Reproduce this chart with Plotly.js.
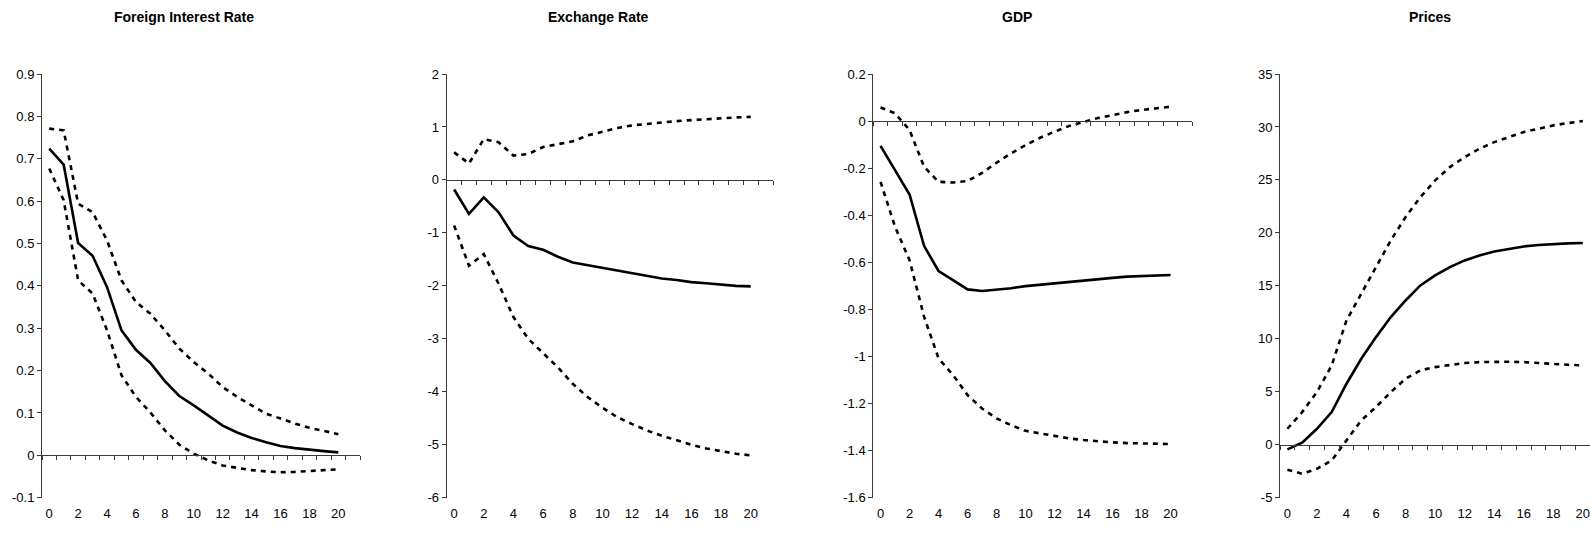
<!DOCTYPE html>
<html>
<head>
<meta charset="utf-8">
<script src="https://cdn.plot.ly/plotly-3.0.1.min.js"></script>
<style>
  html, body { margin: 0; padding: 0; overflow: hidden; background: #fff; }
  #chart { width: 1610px; height: 535px; }
</style>
</head>
<body>
<div id="chart"></div>
<script>
// Horizon (periods)
const periods = [0,1,2,3,4,5,6,7,8,9,10,11,12,13,14,15,16,17,18,19,20];
const xTickVals = [0,2,4,6,8,10,12,14,16,18,20];
const xTickText = ['0','2','4','6','8','10','12','14','16','18','20'];

// Panel titles
const titles = ['Foreign Interest Rate', 'Exchange Rate', 'GDP', 'Prices'];

// Foreign Interest Rate
const fir = [0.724,0.686,0.501,0.471,0.397,0.295,0.249,0.218,0.175,0.140,0.118,0.093,0.070,0.054,0.041,0.031,0.022,0.017,0.013,0.010,0.007];
const firUpper = [0.771,0.767,0.594,0.574,0.507,0.413,0.362,0.334,0.295,0.252,0.220,0.193,0.161,0.138,0.118,0.098,0.087,0.075,0.065,0.057,0.050];
const firLower = [0.677,0.602,0.413,0.382,0.295,0.189,0.138,0.101,0.059,0.025,0.004,-0.012,-0.024,-0.030,-0.035,-0.038,-0.040,-0.039,-0.037,-0.035,-0.033];

// Exchange Rate
const exr = [-0.18,-0.64,-0.33,-0.61,-1.05,-1.25,-1.32,-1.45,-1.56,-1.61,-1.66,-1.72,-1.77,-1.82,-1.86,-1.89,-1.93,-1.95,-1.98,-2.00,-2.01];
const exrUpper = [0.52,0.31,0.77,0.71,0.46,0.49,0.62,0.68,0.73,0.84,0.91,0.98,1.03,1.06,1.09,1.11,1.13,1.15,1.16,1.18,1.19];
const exrLower = [-0.86,-1.62,-1.40,-1.96,-2.59,-3.00,-3.27,-3.54,-3.85,-4.10,-4.30,-4.48,-4.61,-4.73,-4.83,-4.92,-5.00,-5.07,-5.12,-5.17,-5.20];

// GDP
const gdp = [-0.105,-0.208,-0.312,-0.530,-0.637,-0.676,-0.715,-0.722,-0.717,-0.710,-0.701,-0.695,-0.688,-0.681,-0.676,-0.670,-0.666,-0.661,-0.659,-0.656,-0.654];
const gdpUpper = [0.058,0.033,-0.038,-0.194,-0.258,-0.261,-0.255,-0.220,-0.177,-0.137,-0.102,-0.071,-0.045,-0.021,-0.004,0.013,0.025,0.038,0.047,0.054,0.061];
const gdpLower = [-0.258,-0.449,-0.591,-0.831,-1.008,-1.079,-1.164,-1.221,-1.263,-1.292,-1.316,-1.327,-1.339,-1.348,-1.355,-1.361,-1.365,-1.368,-1.370,-1.371,-1.372];

// Prices
const prices = [-0.44,0.19,1.51,3.08,5.76,8.12,10.16,12.05,13.62,15.04,15.98,16.77,17.40,17.87,18.25,18.50,18.72,18.85,18.94,19.01,19.04];
const pricesUpper = [1.51,3.08,4.97,7.49,11.74,14.25,16.77,19.29,21.49,23.38,24.95,26.21,27.16,27.94,28.57,29.05,29.52,29.83,30.15,30.37,30.56];
const pricesLower = [-2.36,-2.74,-2.27,-1.48,0.41,2.30,3.56,4.97,6.23,7.02,7.33,7.55,7.71,7.80,7.84,7.84,7.80,7.74,7.65,7.55,7.49];

// Y tick labels
const firYTicks = ['-0.1','0','0.1','0.2','0.3','0.4','0.5','0.6','0.7','0.8','0.9'];
const exrYTicks = ['-6','-5','-4','-3','-2','-1','0','1','2'];
const gdpYTicks = ['-1.6','-1.4','-1.2','-1','-0.8','-0.6','-0.4','-0.2','0','0.2'];
const pricesYTicks = ['-5','0','5','10','15','20','25','30','35'];

const W = 1610, H = 535;
const FONT = 'Liberation Sans, Arial, sans-serif';
const yDom = [(H - 497.7) / H, (H - 74) / H];
const xDomPx = [[42, 360], [446.7, 773], [873.3, 1192.3], [1280, 1605]];
const titleX = [184, 598, 1017, 1430];

const panels = [
  {mid: fir, up: firUpper, lo: firLower, yt: firYTicks},
  {mid: exr, up: exrUpper, lo: exrLower, yt: exrYTicks},
  {mid: gdp, up: gdpUpper, lo: gdpLower, yt: gdpYTicks},
  {mid: prices, up: pricesUpper, lo: pricesLower, yt: pricesYTicks}
];

const traces = [];
const layout = {
  width: W, height: H,
  margin: {l: 0, r: 0, t: 0, b: 0},
  paper_bgcolor: '#fff', plot_bgcolor: 'rgba(0,0,0,0)',
  showlegend: false,
  font: {family: FONT, size: 13, color: '#000'},
  annotations: []
};

const axisColor = '#3a3a3a';
const TICKFONT = {family: FONT, size: 13, color: '#000'};

panels.forEach((p, i) => {
  const n = i + 1;
  const xa = n === 1 ? 'x' : 'x' + n;
  const xl = 'x' + (n + 4);
  const ya = n === 1 ? 'y' : 'y' + n;
  const tickNums = p.yt.map(Number);
  const ymin = tickNums[0], ymax = tickNums[tickNums.length - 1];
  const zeroPos = yDom[0] + (0 - ymin) / (ymax - ymin) * (yDom[1] - yDom[0]);
  const dom = [xDomPx[i][0] / W, xDomPx[i][1] / W];

  const dashLine = {color: '#000', width: 2.6, dash: '5px,5px'};
  traces.push({x: periods, y: p.up, xaxis: xa, yaxis: ya, mode: 'lines', line: dashLine, hoverinfo: 'skip'});
  traces.push({x: periods, y: p.lo, xaxis: xa, yaxis: ya, mode: 'lines', line: dashLine, hoverinfo: 'skip'});
  // solid line on the (identically scaled) label axis so that axis is drawn
  traces.push({x: periods, y: p.mid, xaxis: xl, yaxis: ya, mode: 'lines', line: {color: '#000', width: 2.6}, hoverinfo: 'skip'});

  // main x axis: line at y = 0 with boundary ticks
  layout['xaxis' + (n === 1 ? '' : n)] = {
    domain: dom, range: [-0.5, 21.5], anchor: 'free', position: zeroPos,
    showline: true, linecolor: axisColor, linewidth: 1,
    ticks: 'outside', ticklen: 4, tickcolor: axisColor, tickwidth: 1,
    tickmode: 'linear', tick0: -0.5, dtick: 1,
    showticklabels: false, showgrid: false, zeroline: false, fixedrange: true
  };
  // label axis at bottom
  layout['xaxis' + (n + 4)] = {
    domain: dom, range: [-0.5, 21.5], anchor: ya, overlaying: xa,
    showline: false, ticks: '', showgrid: false, zeroline: false,
    tickmode: 'array', tickvals: xTickVals, ticktext: xTickText,
    ticklabelstandoff: 6,
    tickfont: TICKFONT, fixedrange: true
  };
  layout['yaxis' + (n === 1 ? '' : n)] = {
    domain: yDom, range: [ymin, ymax], anchor: xa,
    showline: true, linecolor: axisColor, linewidth: 1,
    ticks: 'outside', ticklen: 4, tickcolor: axisColor, tickwidth: 1,
    tickmode: 'array', tickvals: tickNums, ticktext: p.yt,
    showgrid: false, zeroline: false,
    tickfont: TICKFONT, fixedrange: true
  };
  layout.annotations.push({
    text: '<b>' + titles[i] + '</b>', xref: 'paper', yref: 'paper',
    x: titleX[i] / W, y: (H - 17) / H, xanchor: 'center', yanchor: 'middle',
    showarrow: false, font: {family: FONT, size: 14, color: '#000'}
  });
});

Plotly.newPlot('chart', traces, layout, {staticPlot: true, displayModeBar: false});
</script>
</body>
</html>
